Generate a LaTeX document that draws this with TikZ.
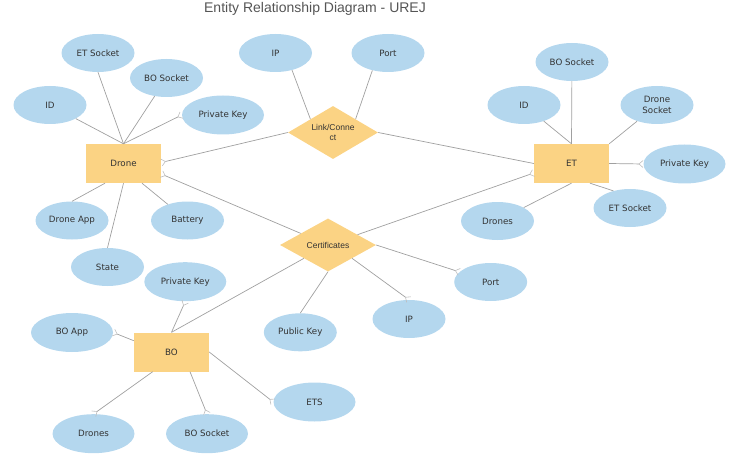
\documentclass[tikz,border=0pt]{standalone}
\usepackage{fontspec}
\setmainfont{DejaVu Sans}
\newfontfamily\arialf{Liberation Sans}
\usetikzlibrary{shapes.geometric,arrows.meta,calc}
\definecolor{attrblue}{HTML}{B4D7EE}
\definecolor{entyel}{HTML}{FBD384}
\definecolor{lineg}{HTML}{A0A0A0}
\definecolor{crowg}{HTML}{BEBEBE}
\definecolor{txt}{HTML}{333333}
\definecolor{titleg}{HTML}{555555}
\begin{document}
\begin{tikzpicture}[x=1pt,y=-1pt,
  attr/.style={ellipse, fill=attrblue, minimum width=73pt, minimum height=38pt, inner sep=0pt,
    font=\fontsize{8.7}{10.5}\selectfont, text=txt, align=center},
  attrw/.style={attr, minimum width=82pt, minimum height=39pt},
  entity/.style={rectangle, fill=entyel, minimum width=75pt, minimum height=39pt, inner sep=0pt,
    font=\fontsize{8.7}{10.5}\selectfont, text=txt},
  rel/.style={diamond, fill=entyel, aspect=1.7, minimum width=90pt, minimum height=53pt, inner sep=0pt,
    font=\arialf\fontsize{8.5}{10}\selectfont, text=txt, align=center},
  conn/.style={draw=lineg, line width=0.7pt},
  crowend/.style={-{Straight Barb[reversed,length=4pt,width=7pt,color=crowg,line width=0.6pt]}},
  crowstart/.style={{Straight Barb[reversed,length=4pt,width=7pt,color=crowg,line width=0.6pt]}-},
]
\useasboundingbox (0,0) rectangle (750,468);
\node[font=\arialf\fontsize{14}{16}\selectfont, text=titleg] (title) at (315,9) {Entity Relationship Diagram - UREJ};

% entities and relationships
\node[entity] (drone) at (123.5,163.5) {Drone};
\node[entity] (et) at (571.5,163.5) {ET};
\node[entity] (bo) at (171.5,352) {BO};
\node[rel] (link) at (333,132.5) {Link/Conne\\ct};
\node[rel, minimum width=96pt] (cert) at (328,245) {Certificates};

% drone attributes
\node[attr] (dets) at (98,53) {ET Socket};
\node[attr] (dbos) at (166.5,78) {BO Socket};
\node[attr] (did) at (50,105) {ID};
\node[attrw] (dpk) at (223,115) {Private Key};
\node[attr] (dapp) at (72,220.5) {Drone App};
\node[attr] (dbat) at (187.5,220.5) {Battery};
\node[attr] (dstate) at (107.5,267) {State};
% link attributes
\node[attr] (lip) at (275.5,53) {IP};
\node[attr] (lport) at (388,53) {Port};
% ET attributes
\node[attr] (ebos) at (572,62) {BO Socket};
\node[attr] (eid) at (524,105) {ID};
\node[attr] (eds) at (657,105) {Drone\\Socket};
\node[attrw] (epk) at (684.5,164) {Private Key};
\node[attr] (eets) at (630,208) {ET Socket};
\node[attr] (edr) at (497.5,221) {Drones};
% certificate attributes
\node[attr] (cport) at (490.7,282) {Port};
\node[attr] (cip) at (409,319) {IP};
\node[attr] (cpub) at (300.3,332.3) {Public Key};
% BO attributes
\node[attrw] (bpk) at (185.3,281.7) {Private Key};
\node[attrw] (bapp) at (72,332.5) {BO App};
\node[attrw] (bdr) at (93.5,433.7) {Drones};
\node[attrw] (bbos) at (207,433.7) {BO Socket};
\node[attrw] (bets) at (314.5,402) {ETS};

% drone connectors
\draw[conn] (did) -- (drone.north);
\draw[conn] (dets.south) -- (drone.north);
\draw[conn] (dbos) -- (drone.north);
\draw[conn,crowstart] (dpk.west) -- (drone.north);
\draw[conn] (dapp.north) -- ($(drone.south)+(-18.5,0)$);
\draw[conn] (dstate.north) -- (drone.south);
\draw[conn] (dbat) -- ($(drone.south)+(18.5,0)$);
\draw[conn,crowstart] ($(drone.east)+(0,-1)$) -- (link.west);
\draw[conn,crowstart] ($(drone.east)+(0,10.5)$) -- (cert);
% link connectors
\draw[conn] (link.east) -- (et.west);
\draw[conn] (lip.-46) -- (link.north west);
\draw[conn] (lport.-132) -- (link.north east);
% ET connectors
\draw[conn,crowstart] ($(et.west)+(0,9.5)$) -- (cert);
\draw[conn] (ebos) -- (et.north);
\draw[conn] (eid) -- (et.north);
\draw[conn] (eds) -- (et.north east);
\draw[conn,crowend] (et.east) -- (epk.west);
\draw[conn] ($(et.south)+(18.5,0)$) -- (eets.134);
\draw[conn] (edr) -- (et.south);
% certificate connectors
\draw[conn,crowend] (cert.east) -- (cport);
\draw[conn,crowend] (cert.south east) -- (cip.north);
\draw[conn] (cert.south) -- (cpub.north);
\draw[conn] (cert.south west) -- (bo.north);
% BO connectors
\draw[conn,crowend] (bo.north) -- (bpk.south);
\draw[conn,crowend] ($(bo.west)+(0,-11.3)$) -- (bapp.east);
\draw[conn,crowend] ($(bo.south)+(-18.8,0)$) -- (bdr.north);
\draw[conn,crowend] ($(bo.south)+(18.5,0)$) -- (bbos.north);
\draw[conn,crowend] (bo.east) -- (bets.west);
\end{tikzpicture}
\end{document}
